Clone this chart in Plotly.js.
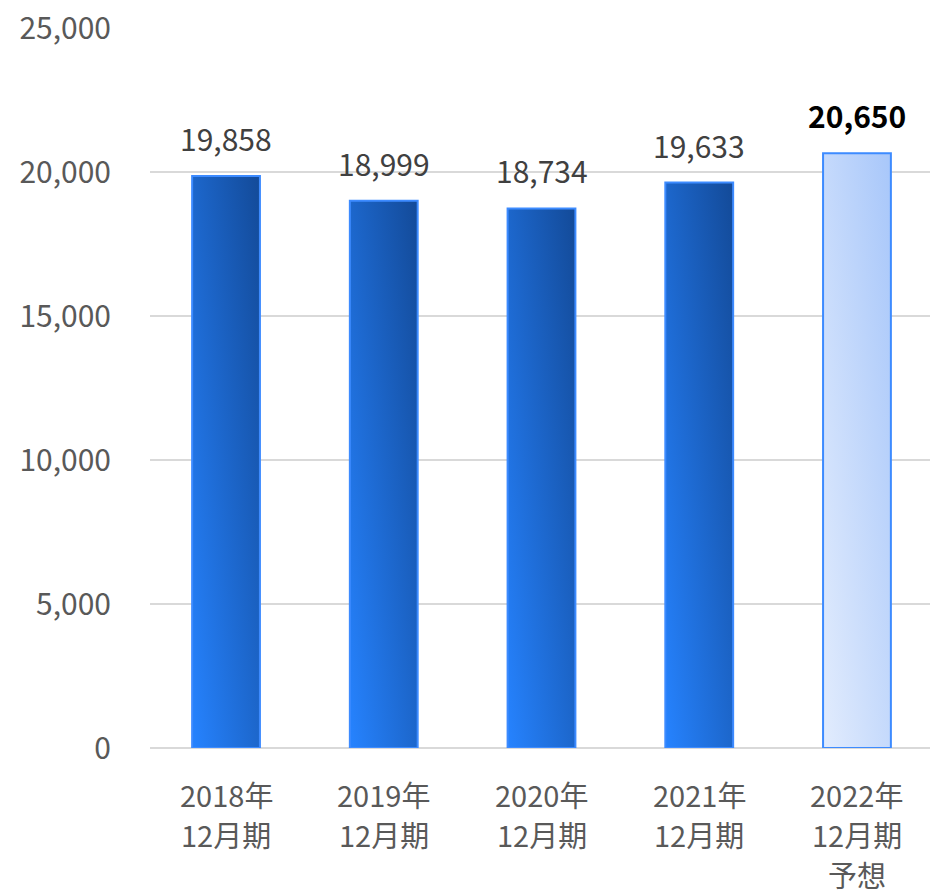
<!DOCTYPE html>
<html>
<head>
<meta charset="utf-8">
<script src="https://cdn.plot.ly/plotly-3.0.1.min.js"></script>
<style>
html,body{margin:0;padding:0;background:#fff;}
#chart{width:930px;height:896px;}
</style>
</head>
<body>
<div id="chart"></div>
<script>
const categories = ["2018年\n12月期", "2019年\n12月期", "2020年\n12月期", "2021年\n12月期", "2022年\n12月期\n予想"];
const values = [19858, 18999, 18734, 19633, 20650];
const isForecast = [false, false, false, false, true];
const yTicks = [0, 5000, 10000, 15000, 20000, 25000];

const FONT = '"Noto Sans CJK JP", Roboto, "DejaVu Sans", sans-serif';

const trace = {
  type: 'bar',
  x: categories,
  y: values,
  width: 0.43,
  marker: {
    color: isForecast.map(f => f ? '#c4d8fa' : '#1f6fe0'),
    line: { color: '#3d8bff', width: 2 }
  },
  hoverinfo: 'none'
};

const valueLabels = categories.map((c, i) => ({
  x: c,
  y: values[i],
  xref: 'x',
  yref: 'y',
  text: values[i].toLocaleString('en-US'),
  showarrow: false,
  yanchor: 'bottom',
  yshift: 14,
  font: isForecast[i]
    ? { family: FONT, size: 30, color: '#000000', weight: 'bold' }
    : { family: FONT, size: 30, color: '#404040' }
}));

const catLabels = [];
categories.forEach((c, i) => {
  c.split('\n').forEach((line, j) => {
    catLabels.push({
      x: c,
      y: 0,
      xref: 'x',
      yref: 'y',
      text: line,
      showarrow: false,
      yanchor: 'middle',
      yshift: -(46 + 40 * j),
      font: { family: FONT, size: 29, color: '#595959' }
    });
  });
});

const layout = {
  width: 930,
  height: 896,
  margin: { l: 150, r: 0, t: 28, b: 148 },
  paper_bgcolor: '#ffffff',
  plot_bgcolor: '#ffffff',
  showlegend: false,
  font: { family: FONT, size: 30, color: '#595959' },
  xaxis: {
    type: 'category',
    range: [-0.482, 4.463],
    showgrid: false,
    showline: false,
    zeroline: false,
    ticks: '',
    showticklabels: false
  },
  yaxis: {
    range: [0, 25000],
    tickvals: yTicks,
    ticktext: yTicks.map(v => v.toLocaleString('en-US')),
    showgrid: true,
    gridcolor: '#d9d9d9',
    gridwidth: 2,
    zeroline: true,
    zerolinecolor: '#d9d9d9',
    zerolinewidth: 2,
    showline: false,
    ticks: '',
    ticklabelstandoff: 38,
    tickfont: { family: FONT, size: 30, color: '#595959' }
  },
  annotations: valueLabels.concat(catLabels)
};

Plotly.newPlot('chart', [trace], layout, { staticPlot: true, displayModeBar: false }).then(gd => {
  const svg = gd.querySelector('svg.main-svg');
  const ns = 'http://www.w3.org/2000/svg';
  let defs = svg.querySelector('defs');
  if (!defs) { defs = document.createElementNS(ns, 'defs'); svg.insertBefore(defs, svg.firstChild); }
  function addGrad(id, c0, c1) {
    const g = document.createElementNS(ns, 'linearGradient');
    g.setAttribute('id', id);
    g.setAttribute('x1', '0'); g.setAttribute('y1', '1');
    g.setAttribute('x2', '1'); g.setAttribute('y2', '0');
    const s0 = document.createElementNS(ns, 'stop');
    s0.setAttribute('offset', '0'); s0.setAttribute('stop-color', c0);
    const s1 = document.createElementNS(ns, 'stop');
    s1.setAttribute('offset', '1'); s1.setAttribute('stop-color', c1);
    g.appendChild(s0); g.appendChild(s1);
    defs.appendChild(g);
  }
  addGrad('gradActual', '#2683ff', '#134a98');
  addGrad('gradForecast', '#e2ecfd', '#a8c7fa');
  const paths = gd.querySelectorAll('.barlayer .point path');
  paths.forEach((p, i) => {
    p.style.fill = isForecast[i] ? 'url(#gradForecast)' : 'url(#gradActual)';
  });
});
</script>
</body>
</html>
